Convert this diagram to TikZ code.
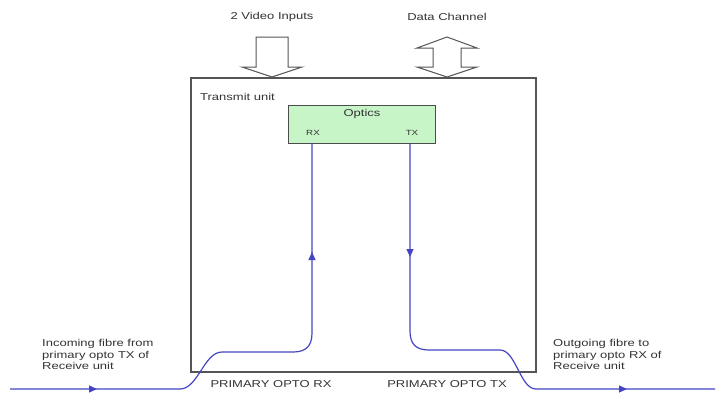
\documentclass[tikz,border=0pt]{standalone}
\usepackage{fontspec}
\setmainfont[FakeStretch=1.3]{Liberation Sans}
\usetikzlibrary{arrows.meta,decorations.markings}
\definecolor{fibreblue}{HTML}{4545C4}
\definecolor{optgreen}{HTML}{C8F5C8}
\definecolor{edgegray}{HTML}{555555}
\begin{document}
\begin{tikzpicture}[x=1bp,y=-1bp,
  lbl/.style={font=\fontsize{10bp}{11.7bp}\selectfont, inner sep=0pt, text=black!80},
  smalllbl/.style={font=\fontsize{7.5bp}{9bp}\selectfont, inner sep=0pt, text=black!80},
  fibre/.style={draw=fibreblue, line width=1.2bp},
  tipat/.style={postaction={decorate, decoration={markings,
      mark=at position #1 with {\arrow[fibreblue]{Triangle[length=8bp,width=7bp]}}}}},
  blockarrow/.style={draw=edgegray, fill=white, line width=1bp, line join=miter},
  unitbox/.style={draw=edgegray, line width=1.5bp, inner sep=0pt},
  opticsbox/.style={draw=black!70, fill=optgreen, line width=1.2bp, inner sep=0pt}]
\useasboundingbox (0,0) rectangle (721,394);

% main unit
\node[unitbox, minimum width=345bp, minimum height=294bp, anchor=north west] (unit) at (190,77) {};
\node[lbl, anchor=west] (unitlbl) at (200,97) {Transmit unit};

% optics
\node[opticsbox, minimum width=147bp, minimum height=38bp, anchor=north west] (optics) at (288,105) {};
\node[lbl] (opticslbl) at (362,114) {Optics};
\node[smalllbl] (rxlbl) at (313,133) {RX};
\node[smalllbl] (txlbl) at (412,133) {TX};

% top labels and block arrows
\node[lbl] (vidlbl) at (272,17) {2 Video Inputs};
\node[lbl] (datalbl) at (447,17) {Data Channel};
\draw[blockarrow] (256,37) -- (288,37) -- (288,67) -- (302,67) -- (272,77) -- (242,67) -- (256,67) -- cycle;
\draw[blockarrow] (447,37) -- (477,48) -- (461,48) -- (461,67) -- (477,67) -- (447,77) -- (417,67) -- (433,67) -- (433,48) -- (417,48) -- cycle;

% fibre coordinates
\coordinate (inStart) at (10,389);
\coordinate (inA) at (180,389);
\coordinate (inB) at (222,352);
\coordinate (inC) at (293,352);
\coordinate (inD) at (312,333);
\coordinate (rxEnd) at (312,143);

\coordinate (txStart) at (410,143);
\coordinate (outA) at (410,331);
\coordinate (outB) at (429,350);
\coordinate (outC) at (500,350);
\coordinate (outD) at (536,389);
\coordinate (outEnd) at (715,389);

% incoming fibre to RX
\draw[fibre, tipat=87bp, tipat=-109bp] (inStart) -- (inA) .. controls (198,389) and (204,352) .. (inB) -- (inC)
   .. controls (306,352) and (312,346) .. (inD) -- (rxEnd);

% outgoing fibre from TX
\draw[fibre, tipat=114bp, tipat=-88bp] (txStart) -- (outA) .. controls (410,344) and (416,350) .. (outB) -- (outC)
   .. controls (516,350) and (520,389) .. (outD) -- (outEnd);

% side texts
\node[lbl, align=left, anchor=north west] (inlbl) at (42,339) {Incoming fibre from\\primary opto TX of\\Receive unit};
\node[lbl, align=left, anchor=north west] (outlbl) at (553,339) {Outgoing fibre to\\primary opto RX of\\Receive unit};
\node[lbl] (prx) at (271,384) {PRIMARY OPTO RX};
\node[lbl] (ptx) at (447,384) {PRIMARY OPTO TX};
\end{tikzpicture}
\end{document}
